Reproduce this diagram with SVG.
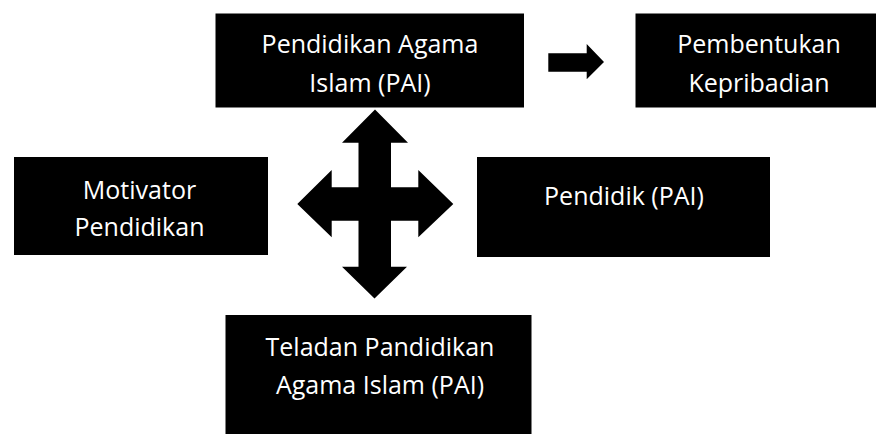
<svg xmlns="http://www.w3.org/2000/svg" width="876" height="434" viewBox="0 0 876 434">
<style>
.box{fill:#000}
.lbl{fill:#fff;font-family:"Open Sans","Liberation Sans",sans-serif;font-size:25px;text-anchor:middle}
.arw{fill:#000}
</style>
<rect width="876" height="434" fill="#fff"/>
<g id="pai">
<rect class="box" x="215.5" y="13.5" width="308.5" height="94"/>
<text class="lbl" x="370" y="53">Pendidikan Agama</text>
<text class="lbl" x="370" y="91.5">Islam (PAI)</text>
</g>
<g id="kepribadian">
<rect class="box" x="635.5" y="13.5" width="240.5" height="94"/>
<text class="lbl" x="759" y="53">Pembentukan</text>
<text class="lbl" x="759" y="91.5">Kepribadian</text>
</g>
<g id="motivator">
<rect class="box" x="14" y="157" width="254" height="98"/>
<text class="lbl" x="139.5" y="198.5">Motivator</text>
<text class="lbl" x="139.5" y="236">Pendidikan</text>
</g>
<g id="pendidik">
<rect class="box" x="477" y="157" width="293" height="100"/>
<text class="lbl" x="624" y="204.5">Pendidik (PAI)</text>
</g>
<g id="teladan">
<rect class="box" x="225.5" y="315" width="306" height="119"/>
<text class="lbl" x="380" y="356">Teladan Pandidikan</text>
<text class="lbl" x="380" y="393.5">Agama Islam (PAI)</text>
</g>
<g id="connectors">
<polygon class="arw" points="375,109.5 408,142.7 391,142.7 391,187.3 418.3,187.3 418.3,170 453.3,204 418.3,237.3 418.3,220.7 391,220.7 391,266.7 407,266.7 374.5,298.5 342,266.7 358.5,266.7 358.5,220.7 331.7,220.7 331.7,237.3 297.3,204 331.7,170 331.7,187.3 358.5,187.3 358.5,142.7 342,142.7"/>
<polygon class="arw" points="548.3,53.3 586.7,53.3 586.7,44 604,62 586.7,79.3 586.7,71.7 548.3,71.7"/>
</g>
</svg>
